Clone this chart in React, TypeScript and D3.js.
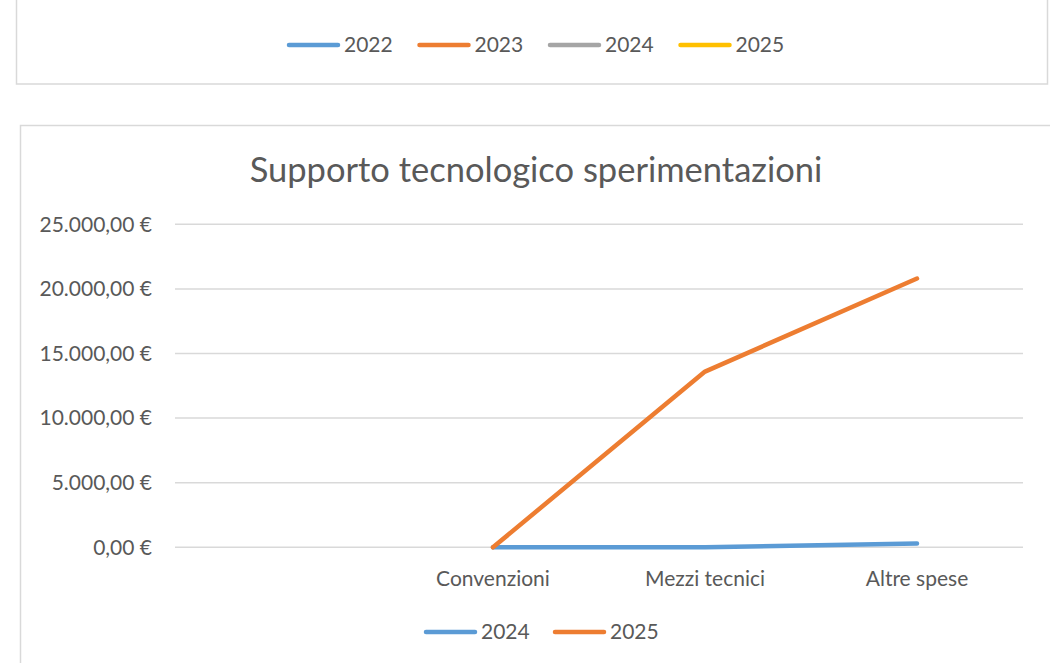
import * as d3 from "d3";

const categories = ["", "Convenzioni", "Mezzi tecnici", "Altre spese"];
const values2024: (number | null)[] = [null, 0, 0, 300];
const values2025: (number | null)[] = [null, 0, 13600, 20800];
const yTicks = [0, 5000, 10000, 15000, 20000, 25000];
const topLegendYears = ["2022", "2023", "2024", "2025"];
const topLegendColors = ["#5B9BD5", "#ED7D31", "#A5A5A5", "#FFC000"];
const series = [
  { name: "2024", values: values2024, color: "#5B9BD5" },
  { name: "2025", values: values2025, color: "#ED7D31" },
];

const W = 1050;
const H = 663;
const FONT = "Lato, 'Open Sans', sans-serif";
const TXT = "#595959";
const FS = 21;

const euro = d3
  .formatLocale({
    decimal: ",",
    thousands: ".",
    grouping: [3],
    currency: ["", " €"],
  })
  .format("$,.2f");

export default function App() {
  const x = d3.scaleBand().domain(categories).range([175, 1023]);
  const y = d3.scaleLinear().domain([0, 25000]).range([547.3, 224.3]);
  const cx = (c: string) => (x(c) ?? 0) + x.bandwidth() / 2;

  const line = d3
    .line<{ c: string; v: number | null }>()
    .defined((d) => d.v != null)
    .x((d) => cx(d.c))
    .y((d) => y(d.v as number));

  return (
    <svg
      width={W}
      height={H}
      style={{ position: "absolute", left: 0, top: 0, background: "#fff" }}
      fontFamily={FONT}
    >
      {/* upper chart fragment */}
      <rect x={16.5} y={-10} width={1031} height={94} fill="#fff" stroke="#D9D9D9" strokeWidth={1.5} />
      {topLegendYears.map((yr, i) => {
        const x0 = 287 + i * 130.5;
        return (
          <g key={yr}>
            <line x1={x0 + 2} x2={x0 + 51} y1={45} y2={45} stroke={topLegendColors[i]} strokeWidth={4.5} strokeLinecap="round" />
            <text x={x0 + 57} y={45} dy="0.35em" fontSize={FS} fill={TXT}>
              {yr}
            </text>
          </g>
        );
      })}

      {/* main chart */}
      <rect x={20.5} y={125.5} width={1040} height={600} fill="#fff" stroke="#D9D9D9" strokeWidth={1.5} />
      <text x={536} y={170} dy="0.35em" textAnchor="middle" fontSize={34.5} fill={TXT}>
        Supporto tecnologico sperimentazioni
      </text>

      {yTicks.map((t) => (
        <g key={t}>
          <line x1={175} x2={1023} y1={y(t)} y2={y(t)} stroke="#D9D9D9" strokeWidth={1.5} />
          <text x={152} y={y(t)} dy="0.35em" textAnchor="end" fontSize={FS} fill={TXT}>
            {euro(t)}
          </text>
        </g>
      ))}

      {categories.map((c) => (
        <text key={c} x={cx(c)} y={579} dy="0.35em" textAnchor="middle" fontSize={FS} fill={TXT}>
          {c}
        </text>
      ))}

      {series.map((s) => (
        <path
          key={s.name}
          d={line(categories.map((c, i) => ({ c, v: s.values[i] }))) ?? ""}
          fill="none"
          stroke={s.color}
          strokeWidth={4.5}
          strokeLinecap="round"
          strokeLinejoin="round"
        />
      ))}

      {series.map((s, i) => {
        const x0 = 424 + i * 129;
        return (
          <g key={s.name}>
            <line x1={x0 + 2} x2={x0 + 51} y1={632} y2={632} stroke={s.color} strokeWidth={4.5} strokeLinecap="round" />
            <text x={x0 + 57} y={632} dy="0.35em" fontSize={FS} fill={TXT}>
              {s.name}
            </text>
          </g>
        );
      })}
    </svg>
  );
}
